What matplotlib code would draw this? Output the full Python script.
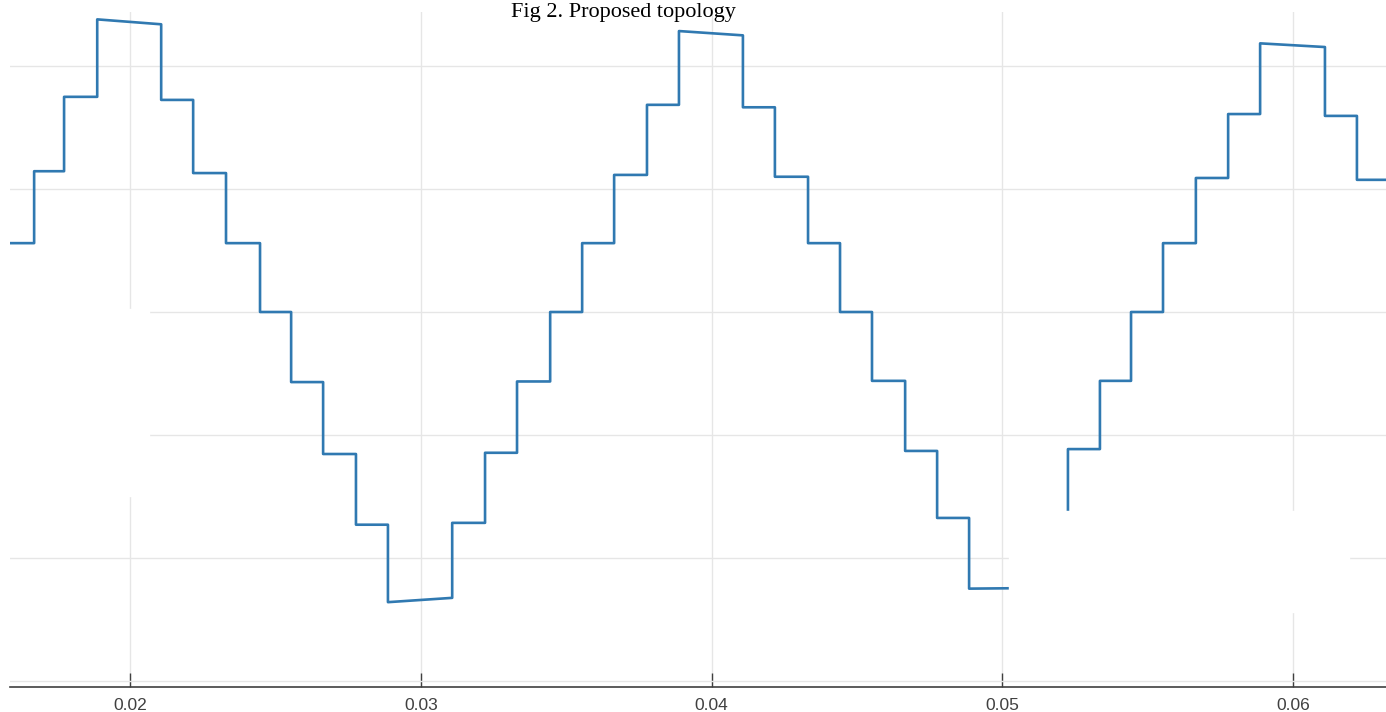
import numpy as np
import matplotlib
matplotlib.use('Agg')
import matplotlib.pyplot as plt
from matplotlib.patches import Rectangle

# staircase output voltage: start time of each step, level at start / end of step
t_sw = [0.01587, 0.01670, 0.01773, 0.01887, 0.02107, 0.02217, 0.02330, 0.02447,
        0.02554, 0.02664, 0.02777, 0.02887, 0.03108, 0.03221, 0.03331, 0.03445,
        0.03555, 0.03665, 0.03778, 0.03888, 0.04108, 0.04218, 0.04332, 0.04442,
        0.04552, 0.04666, 0.04776, 0.04886, 0.05116, 0.05226, 0.05336, 0.05443,
        0.05553, 0.05666, 0.05777, 0.05887, 0.06110, 0.06220]
t_end = 0.06320
v_start = [112, 229, 350, 476, 345, 226, 112, 0, -114, -231, -346, -472, -343, -229,
           -113, 0, 112, 223, 337, 457, 333, 220, 112, 0, -112, -226, -335, -450,
           -333, -223, -112, 0, 112, 218, 322, 437, 319, 215]
v_end = [112, 229, 350, 468, 345, 226, 112, 0, -114, -231, -346, -465, -343, -229,
         -113, 0, 112, 223, 337, 450, 333, 220, 112, 0, -112, -226, -335, -449,
         -333, -223, -112, 0, 112, 218, 322, 431, 319, 215]

x_ticks = [0.02, 0.03, 0.04, 0.05, 0.06]
x_ticklabels = ['0.02', '0.03', '0.04', '0.05', '0.06']
y_grid = [-600, -400, -200, 0, 200, 400]

# build the polyline
t_next = t_sw[1:] + [t_end]
xs, ys = [], []
for t0, t1, a, b in zip(t_sw, t_next, v_start, v_end):
    xs += [t0, t1]
    ys += [a, b]

fig = plt.figure(figsize=(13.86, 7.12), dpi=100)
ax = fig.add_axes([10 / 1386, 25 / 712, 1 - 10 / 1386, 675 / 712])

ax.plot(xs, ys, color='#3079b1', lw=1.9)

ax.set_xlim(0.01587, 0.06320)
ax.set_ylim(-610, 488)
ax.set_xticks(x_ticks)
ax.set_xticklabels(x_ticklabels, family='Liberation Sans')
ax.set_yticks(y_grid)
ax.set_yticklabels([])
ax.tick_params(axis='y', length=0)
ax.tick_params(axis='x', direction='in', length=10, width=1, color='#404040',
               labelsize=12.5, labelcolor='#404040', pad=8)
ax.grid(True, color='#e6e6e6', lw=1)
ax.set_axisbelow(True)
for s in ['top', 'right', 'left']:
    ax.spines[s].set_visible(False)
ax.spines['bottom'].set_color('#404040')
ax.spines['bottom'].set_linewidth(1.2)

# white patches covering parts of the picture
fig.patches.append(Rectangle((0, 1 - 496 / 712), 149 / 1386, 187 / 712,
                             transform=fig.transFigure, color='white', zorder=5))
fig.patches.append(Rectangle((1009 / 1386, 1 - 612 / 712), 340 / 1386, 101 / 712,
                             transform=fig.transFigure, color='white', zorder=5))

fig.text(623 / 1386, 1 - 17 / 712, 'Fig 2. Proposed topology', ha='center',
         va='baseline', fontsize=16, family='Liberation Serif', color='black')

fig.savefig('out.png', dpi=100)
